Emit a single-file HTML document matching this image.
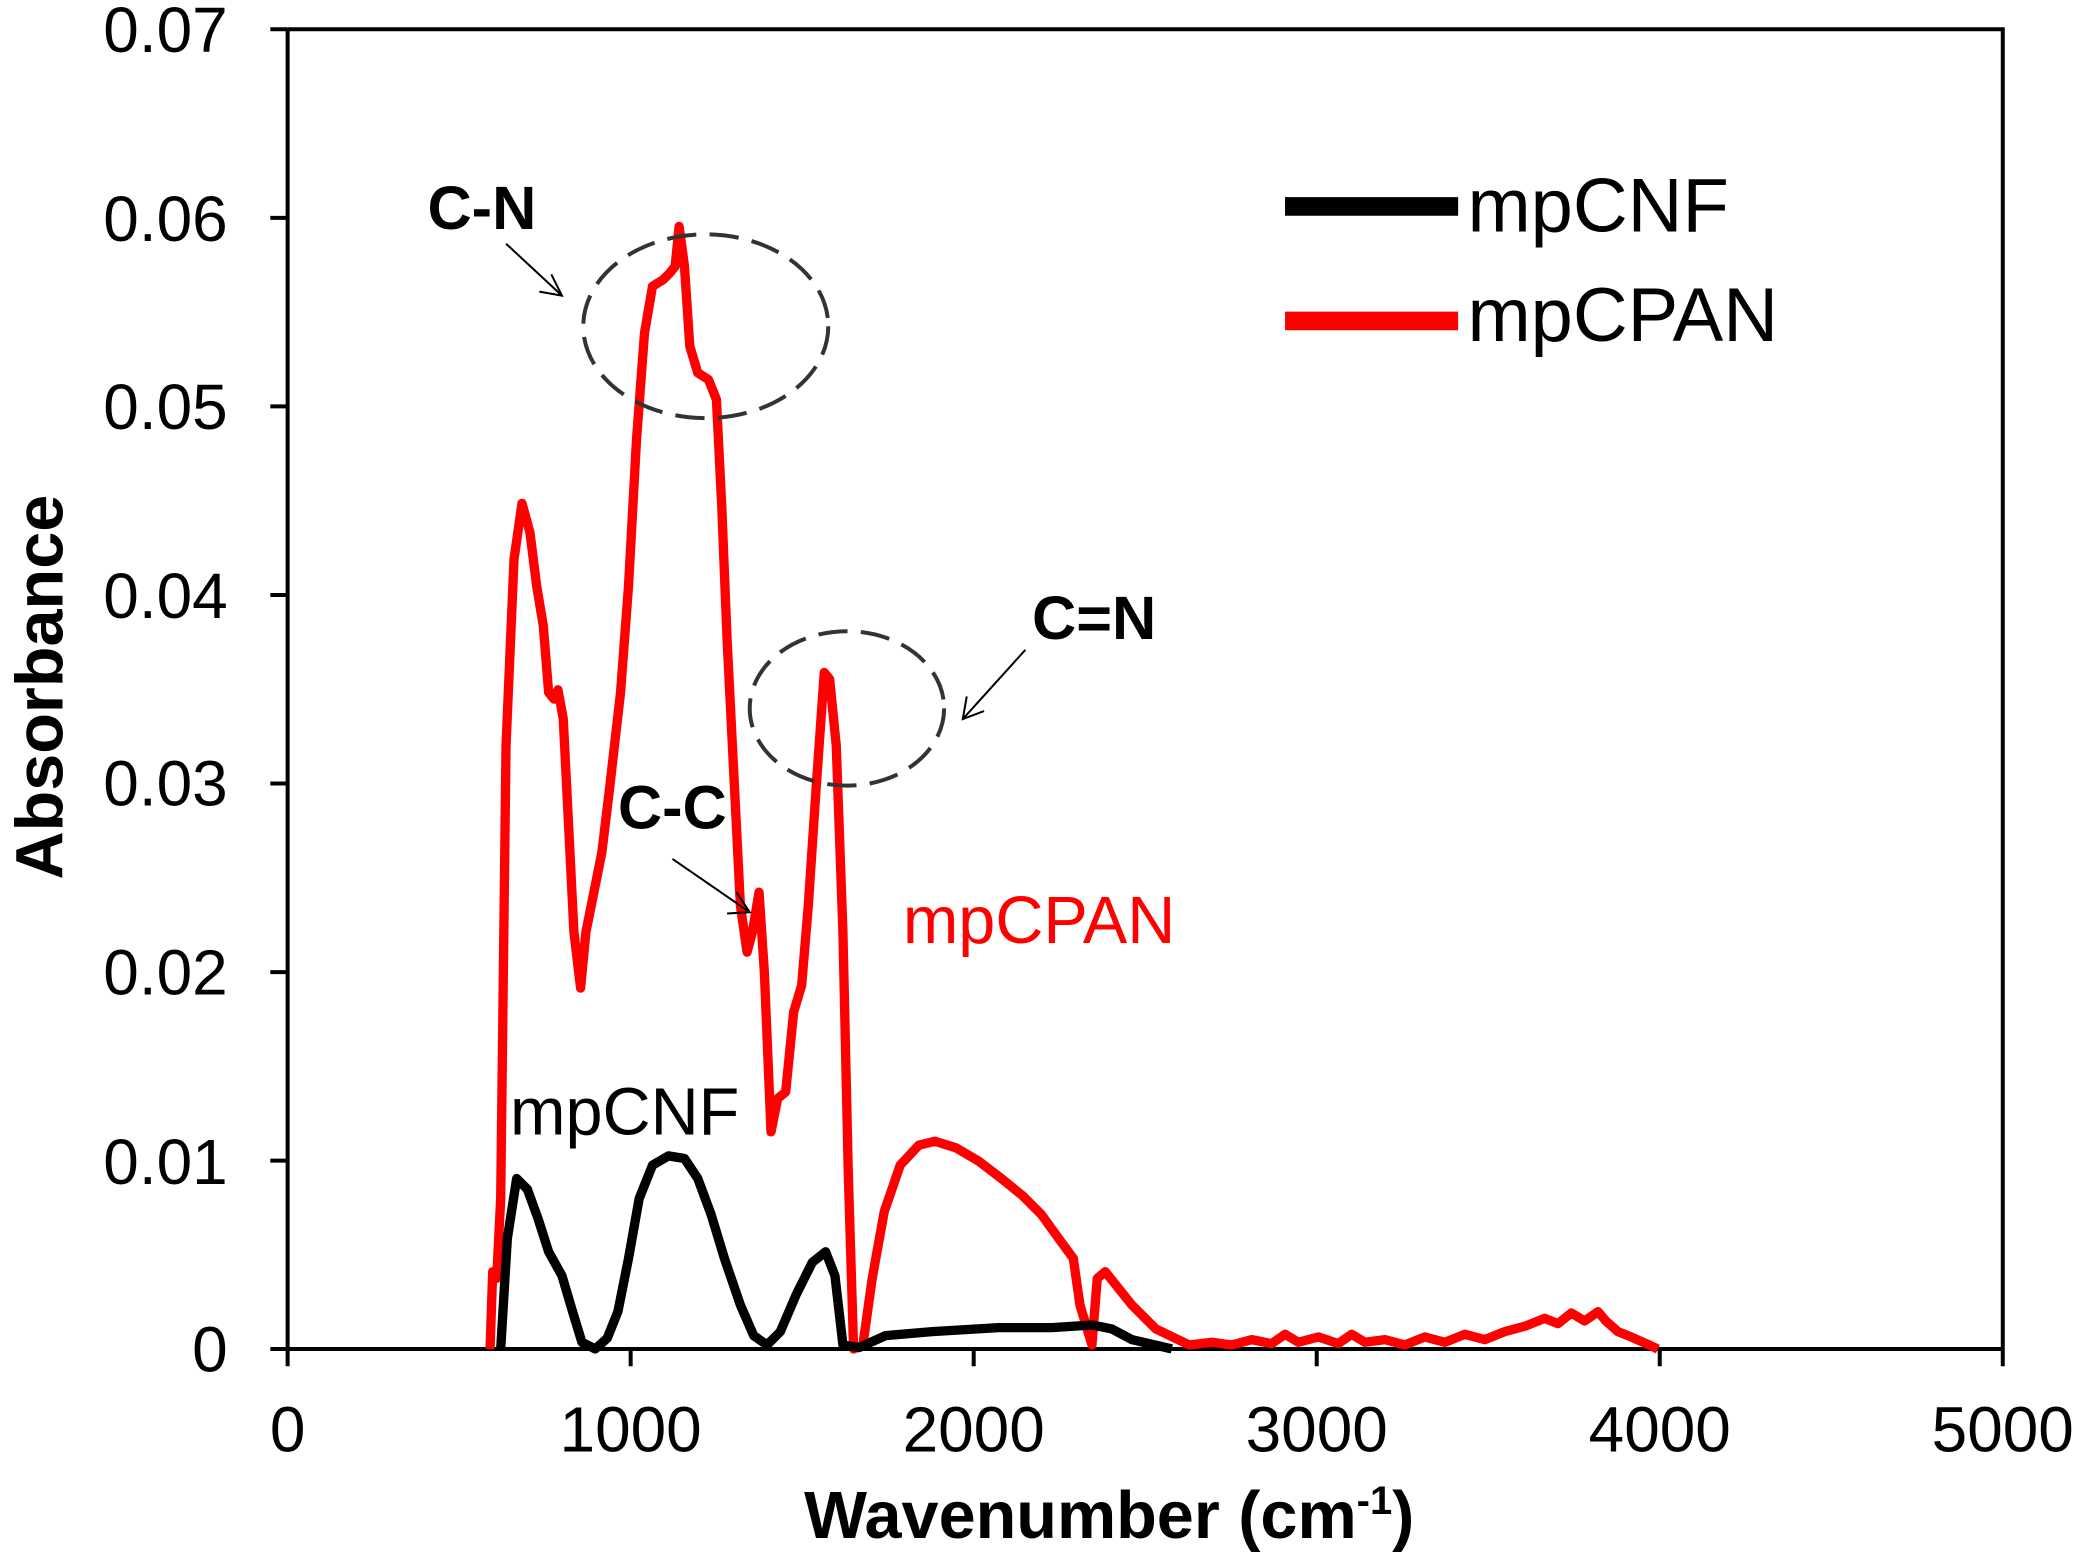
<!DOCTYPE html>
<html><head><style>html,body{margin:0;padding:0;background:#fff;}svg{display:block;}</style></head>
<body>
<svg width="2088" height="1566" viewBox="0 0 1568 1176" preserveAspectRatio="none" xmlns="http://www.w3.org/2000/svg" font-family="Liberation Sans, Arial, sans-serif">
<rect width="1568" height="1176" fill="#fff"/>
<path d="M216,22 H1504 V1013" fill="none" stroke="#000" stroke-width="3"/>
<path d="M216,22 V1026 M203,1013 H1504" fill="none" stroke="#000" stroke-width="3"/>
<g stroke="#000" stroke-width="3">
<line x1="203" y1="22" x2="216" y2="22"/><line x1="203" y1="163.6" x2="216" y2="163.6"/>
<line x1="203" y1="305.2" x2="216" y2="305.2"/><line x1="203" y1="446.8" x2="216" y2="446.8"/>
<line x1="203" y1="588.4" x2="216" y2="588.4"/><line x1="203" y1="730" x2="216" y2="730"/>
<line x1="203" y1="871.6" x2="216" y2="871.6"/>
<line x1="473.6" y1="1013" x2="473.6" y2="1026"/><line x1="731.2" y1="1013" x2="731.2" y2="1026"/>
<line x1="988.8" y1="1013" x2="988.8" y2="1026"/><line x1="1246.4" y1="1013" x2="1246.4" y2="1026"/>
<line x1="1504" y1="1013" x2="1504" y2="1026"/>
</g>
<g font-size="48" text-anchor="end" fill="#000">
<text x="171" y="39">0.07</text><text x="171" y="181">0.06</text><text x="171" y="322">0.05</text>
<text x="171" y="464">0.04</text><text x="171" y="605">0.03</text><text x="171" y="747">0.02</text>
<text x="171" y="889">0.01</text><text x="171" y="1030">0</text>
</g>
<g font-size="48" text-anchor="middle" fill="#000">
<text x="216" y="1090">0</text><text x="473.6" y="1090">1000</text><text x="731.2" y="1090">2000</text>
<text x="988.8" y="1090">3000</text><text x="1246.4" y="1090">4000</text><text x="1504" y="1090">5000</text>
</g>
<text x="833" y="1155" font-size="50" font-weight="bold" text-anchor="middle">Wavenumber (cm<tspan font-size="30" dy="-18">-1</tspan><tspan dy="18">)</tspan></text>
<text transform="translate(47,516) rotate(-90)" font-size="50" font-weight="bold" text-anchor="middle">Absorbance</text>
<polyline fill="none" stroke="#f00" stroke-width="7" stroke-linejoin="round" points="368,1013 370,955 373,960 376,900 380,560 386,420 392,378 398,400 403,440 408,470 412,520 416,525 419,518 423,540 427,620 431,700 436,742 440,700 446,670 452,640 458,590 466,520 472,440 478,330 484,250 490,215 498,210 503,205 507,200 510,170 514,200 518,260 524,280 532,285 538,300 542,380 546,480 551,580 556,680 561,715 565,700 570,670 574,730 579,850 584,825 590,820 596,760 602,740 607,680 613,590 619,505 623,510 628,560 633,700 637,880 641,1013 648,1010 655,960 664,910 676,875 690,860 702,857 718,862 735,872 752,885 768,898 782,912 795,930 806,945 811,980 817,1000 820,1010 824,960 830,955 838,965 850,980 868,998 893,1010 910,1008 925,1010 940,1006 955,1009 965,1002 975,1008 990,1004 1005,1009 1015,1002 1025,1008 1040,1006 1055,1010 1070,1004 1085,1008 1100,1002 1115,1006 1130,1000 1145,996 1160,990 1170,994 1180,986 1190,992 1200,985 1206,992 1215,1000 1225,1004 1245,1013"/>
<polyline fill="none" stroke="#000" stroke-width="7" stroke-linejoin="round" points="376,1013 381,930 388,885 396,893 404,915 412,940 422,958 430,985 437,1008 447,1013 456,1005 464,985 472,945 480,900 490,875 502,868 514,870 524,885 534,912 544,945 556,980 566,1003 576,1010 586,1000 598,972 610,948 620,940 627,958 633,1010 645,1012 665,1003 700,1000 750,997 790,997 820,995 835,998 850,1006 880,1013"/>
<ellipse cx="530" cy="245" rx="92" ry="69" fill="none" stroke="#333" stroke-width="3" stroke-dasharray="22,10"/>
<ellipse cx="636" cy="532" rx="73" ry="58" fill="none" stroke="#333" stroke-width="3" stroke-dasharray="22,10"/>
<g stroke="#000" stroke-width="1.5" fill="none">
<path d="M380,183 L422,222 M405,219 L422,222 L414,206"/>
<path d="M770,488 L723,540 M726,523 L723,540 L739,534"/>
<path d="M505,645 L563,685 M546,686 L563,685 L553,670"/>
</g>
<g font-size="46" font-weight="bold" fill="#000">
<text x="321" y="172">C-N</text><text x="775" y="480">C=N</text><text x="464" y="622">C-C</text>
</g>
<text x="678" y="708" font-size="50" fill="#f00">mpCPAN</text>
<text x="383" y="852" font-size="50" fill="#000">mpCNF</text>
<line x1="965" y1="155" x2="1095" y2="155" stroke="#000" stroke-width="14"/>
<line x1="965" y1="241" x2="1095" y2="241" stroke="#f00" stroke-width="14"/>
<text x="1102" y="174" font-size="57" fill="#000">mpCNF</text>
<text x="1102" y="256" font-size="57" fill="#000">mpCPAN</text>
</svg>
</body></html>
